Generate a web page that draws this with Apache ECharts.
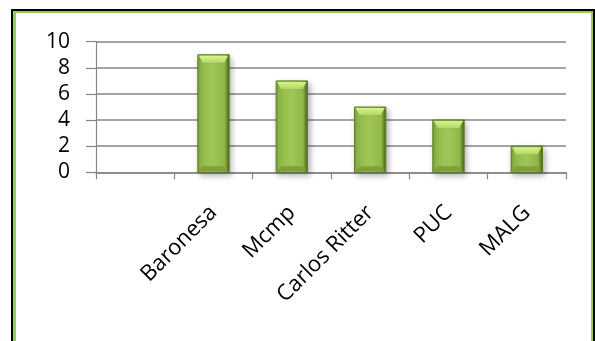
<!DOCTYPE html>
<html><head><meta charset="utf-8">
<script src="https://cdn.jsdelivr.net/npm/echarts@6/dist/echarts.min.js"></script>
<style>
html,body{margin:0;padding:0;background:#fff;width:595px;height:341px;overflow:hidden;position:relative}
#frame{position:absolute;left:11px;top:9px;width:580px;height:400px;border-left:2px solid #000;border-top:2px solid #000;border-right:2px solid #000}
#inner{position:absolute;left:0;top:0;right:0;bottom:0;border-left:3px solid #92d050;border-top:2px solid #92d050;border-right:2px solid #92d050}
#chart{position:absolute;left:0;top:0;width:595px;height:341px}
</style></head>
<body>
<div id="frame"><div id="inner"></div></div>
<div id="chart"></div>
<script>
const categories = ['', 'Baronesa', 'Mcmp', 'Carlos Ritter', 'PUC', 'MALG'];
const values = [null, 9, 7, 5, 4, 2];
const yTicks = [0, 2, 4, 6, 8, 10];

const chart = echarts.init(document.getElementById('chart'));
const font = 'Open Sans';
chart.setOption({
  animation: false,
  grid: {left: 96, right: 29, top: 41.7, bottom: 168.7, containLabel: false},
  xAxis: {
    type: 'category', data: categories, boundaryGap: true,
    axisLine: {lineStyle: {color: '#868686', width: 1.5}},
    axisTick: {show: true, alignWithLabel: false, length: 7, lineStyle: {color: '#868686', width: 1.2}},
    axisLabel: {rotate: 45, interval: 0, margin: 37, color: '#000', fontFamily: font, fontSize: 22}
  },
  yAxis: {
    type: 'value', min: yTicks[0], max: yTicks[yTicks.length-1], interval: 2,
    axisLine: {show: true, lineStyle: {color: '#868686', width: 1.2}},
    axisTick: {show: true, length: 10, lineStyle: {color: '#868686', width: 1.2}},
    splitLine: {lineStyle: {color: '#868686', width: 1.5}},
    axisLabel: {margin: 26, color: '#000', fontFamily: font, fontSize: 21}
  },
  series: [{
    type: 'custom',
    data: values.map((v, i) => [i, v]),
    renderItem: function (params, api) {
      const v = api.value(1);
      if (v == null || isNaN(v)) return;
      const top = api.coord([api.value(0), v]);
      const base = api.coord([api.value(0), 0]);
      const bw = api.size([1, 0])[0] * 0.4;
      const x0 = top[0] - bw / 2, x1 = top[0] + bw / 2;
      const y0 = top[1], y1 = base[1];
      const h = y1 - y0;
      const bev = Math.min(8, h / 3);
      const ins = 5;
      return {
        type: 'group',
        children: [
          {type: 'rect', shape: {x: x0, y: y0, width: bw, height: h},
           style: {fill: {type: 'linear', x: 0, y: 0, x2: 1, y2: 0, colorStops: [
             {offset: 0, color: '#7a9e34'}, {offset: 0.12, color: '#94bc4c'}, {offset: 0.5, color: '#9fc656'},
             {offset: 0.85, color: '#90b649'}, {offset: 0.92, color: '#6b8a2b'}, {offset: 1, color: '#4a6420'}]},
             stroke: '#5f7d27', lineWidth: 1, shadowBlur: 6, shadowColor: 'rgba(0,0,0,0.3)', shadowOffsetX: 2, shadowOffsetY: 3}},
          {type: 'polygon', shape: {points: [[x0 + 1, y0 + 1], [x1 - 1, y0 + 1], [x1 - ins, y0 + bev], [x0 + ins, y0 + bev]]},
           style: {fill: {type: 'linear', x: 0, y: 0, x2: 0, y2: 1, colorStops: [
             {offset: 0, color: '#d6f58a'}, {offset: 1, color: '#b3d866'}]}}},
          {type: 'polygon', shape: {points: [[x0 + ins, y1 - 6], [x1 - ins, y1 - 6], [x1 - 1, y1 - 1], [x0 + 1, y1 - 1]]},
           style: {fill: '#7f9f3c'}}
        ]
      };
    }
  }]
});
</script>
</body></html>
